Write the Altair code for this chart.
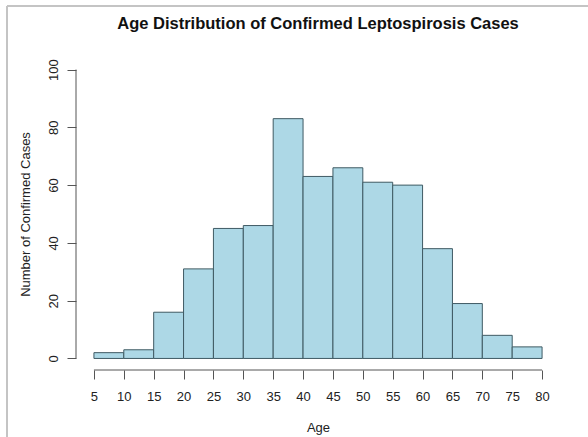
import altair as alt
import pandas as pd

bin_start = [5, 10, 15, 20, 25, 30, 35, 40, 45, 50, 55, 60, 65, 70, 75]
bin_end = [10, 15, 20, 25, 30, 35, 40, 45, 50, 55, 60, 65, 70, 75, 80]
counts = [2, 3, 16, 31, 45, 46, 83, 63, 66, 61, 60, 38, 19, 8, 4]
x_ticks = [5, 10, 15, 20, 25, 30, 35, 40, 45, 50, 55, 60, 65, 70, 75, 80]
y_ticks = [0, 20, 40, 60, 80, 100]
title_text = ["Age Distribution of Confirmed Leptospirosis Cases"]

df = pd.DataFrame({"start": bin_start, "end": bin_end, "count": counts})
xline_df = pd.DataFrame({"start": [x_ticks[0]], "end": [x_ticks[-1]]})
yline_df = pd.DataFrame({"count": [y_ticks[0]], "top": [y_ticks[-1]]})
title_df = pd.DataFrame({"t": title_text})

W, H = 484, 312
FONT = "Liberation Sans"
AXC = "#555555"

xscale = alt.Scale(domain=[2, 83], nice=False, zero=False)
yscale = alt.Scale(domain=[-4, 104], nice=False, zero=False)

xaxis = alt.Axis(
    values=x_ticks, domain=False, grid=False, tickSize=9, tickColor=AXC,
    labelOverlap=False, labelPadding=11, labelFontSize=13, labelFont=FONT,
    labelColor="#222222",
    title="Age", titleFont=FONT, titleFontSize=13, titleFontWeight="normal",
    titleColor="#222222", titleY=57, titleBaseline="middle")
yaxis = alt.Axis(
    values=y_ticks, domain=False, grid=False, tickSize=9, tickColor=AXC,
    labelOverlap=False, labelAngle=-90, labelAlign="center",
    labelBaseline="bottom", labelPadding=7, labelFontSize=13,
    labelFont=FONT, labelColor="#222222",
    title="Number of Confirmed Cases", titleFont=FONT, titleFontSize=13,
    titleFontWeight="normal", titleColor="#222222", titleX=-51,
    titleBaseline="middle")

bars = alt.Chart(df).mark_rect(
    fill="#ADD8E6", stroke="#3f5a63", strokeWidth=1
).encode(
    x=alt.X("start:Q", scale=xscale, axis=xaxis),
    x2="end:Q",
    y=alt.Y("count:Q", scale=yscale, axis=yaxis),
    y2=alt.datum(0),
)

x_line = alt.Chart(xline_df).mark_rule(color=AXC, strokeWidth=1).encode(
    x=alt.X("start:Q", scale=xscale, axis=xaxis), x2="end:Q", y=alt.value(H)
)
y_line = alt.Chart(yline_df).mark_rule(color=AXC, strokeWidth=1).encode(
    y=alt.Y("count:Q", scale=yscale, axis=yaxis), y2="top:Q", x=alt.value(0)
)

title = alt.Chart(title_df).mark_text(
    font=FONT, fontSize=16.5, fontWeight="bold", color="#111111",
    align="center", baseline="middle"
).encode(text="t:N", x=alt.value(W / 2), y=alt.value(-34))

frame_top = alt.Chart(title_df).mark_rule(color="#c4c4c4", strokeWidth=2).encode(
    x=alt.value(-69), x2=alt.value(520), y=alt.value(-52)
)
frame_left = alt.Chart(title_df).mark_rule(color="#c4c4c4", strokeWidth=2).encode(
    x=alt.value(-69), y=alt.value(-52), y2=alt.value(385)
)

chart = alt.layer(bars, x_line, y_line, title, frame_top, frame_left).properties(
    width=W, height=H,
    background="white",
    autosize=alt.AutoSizeParams(type="none"),
    padding={"left": 76, "top": 58, "right": 28, "bottom": 67},
).configure_view(strokeWidth=0, strokeOpacity=0)

chart.save("out.html", embed_options={"renderer": "svg", "actions": False})
